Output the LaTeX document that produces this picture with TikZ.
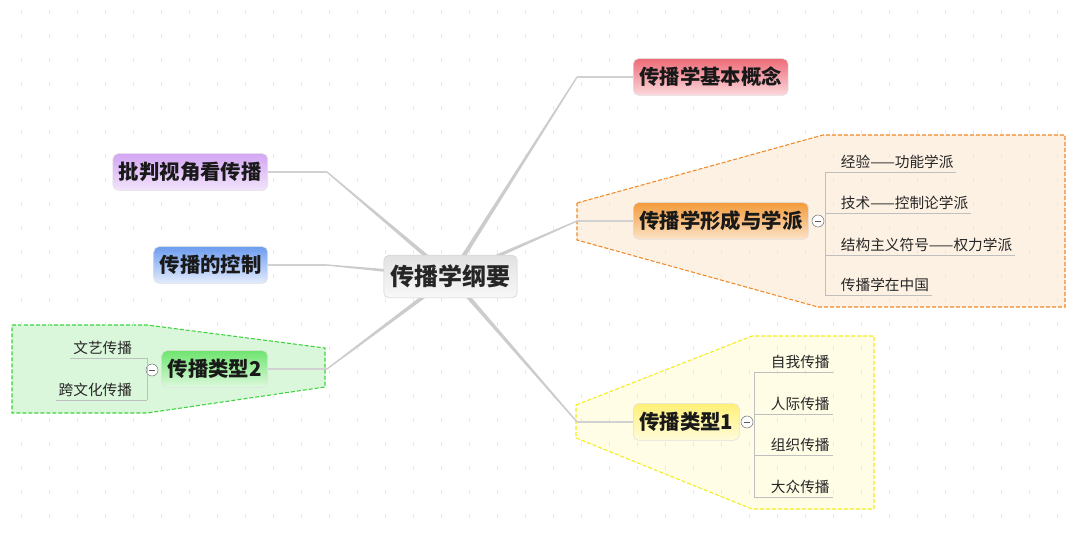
\documentclass[tikz,border=0pt]{standalone}
\usepackage{fontspec}
\newfontfamily\cjk{Noto Sans CJK SC}
\usetikzlibrary{backgrounds,calc,shapes}

\definecolor{rootT}{HTML}{E2E2E2}
\definecolor{rootB}{HTML}{F8F8F8}
\definecolor{redT}{HTML}{EE6B78}
\definecolor{redB}{HTML}{FBD9DD}
\definecolor{purT}{HTML}{D3A6F3}
\definecolor{purB}{HTML}{F2E4FB}
\definecolor{bluT}{HTML}{6E9CF0}
\definecolor{bluB}{HTML}{E4ECFC}
\definecolor{oraT}{HTML}{F39A3A}
\definecolor{oraB}{HTML}{FDE4C8}
\definecolor{yelT}{HTML}{FFF176}
\definecolor{yelB}{HTML}{FFFBDC}
\definecolor{grnT}{HTML}{6EE46E}
\definecolor{grnB}{HTML}{DDF9DD}
\definecolor{oraLine}{HTML}{EF8A26}
\definecolor{oraFill}{HTML}{FDF1E4}
\definecolor{yelLine}{HTML}{F2EE1E}
\definecolor{yelFill}{HTML}{FFFDE6}
\definecolor{grnLine}{HTML}{3CD43C}
\definecolor{grnFill}{HTML}{DBF7DB}

% tapered branch from the root
\newcommand{\branchline}[2]{%
  \fill[branchfill] ($(#1)!1.7pt!90:(#2)$) -- ($(#2)!0.5pt!-90:(#1)$)
    -- ($(#2)!0.5pt!90:(#1)$) -- ($(#1)!1.7pt!-90:(#2)$) -- cycle;}

\begin{document}
\begin{tikzpicture}[x=0.75pt,y=-0.75pt,
    rootbox/.style={rounded corners=4pt, draw=black!18, top color=rootT, bottom color=rootB,
      minimum height=32pt, inner xsep=5pt, text=black!85,
      font=\cjk\bfseries\fontsize{18pt}{18pt}\selectfont},
    topic/.style 2 args={rounded corners=4pt, draw=black!12, top color=#1, bottom color=#2,
      minimum height=27.5pt, inner xsep=4.5pt, text=black!90,
      font=\cjk\bfseries\fontsize{15.3pt}{15.3pt}\selectfont},
    leaf/.style={inner xsep=2pt, inner ysep=0pt, text height=9pt, text depth=3.3pt,
      text=black!85, font=\cjk\fontsize{11pt}{11pt}\selectfont},
    foldmark/.style={circle, draw=black!55, fill=white, minimum size=9pt, inner sep=0pt,
      path picture={\draw[black!65] ([xshift=2pt]path picture bounding box.west)
        -- ([xshift=-2pt]path picture bounding box.east);}},
    zonebox/.style 2 args={draw=#1, fill=#2, line width=0.8pt, dash pattern=on 3pt off 1.5pt},
    branchfill/.style={black!20},
    stemline/.style={black!18, line width=0.8pt},
    subline/.style={black!25, line width=0.7pt},
    gridmark/.style={black!9, line width=0.5pt}]

  \useasboundingbox (0,0) rectangle (1080,533);

  % root and main topics
  \node[rootbox] (root) at (450.5,276.5) {传播学纲要};
  \node[topic={redT}{redB}, anchor=west] (basic) at (633,77) {传播学基本概念};
  \node[topic={purT}{purB}, anchor=east] (critic) at (268,172) {批判视角看传播};
  \node[topic={bluT}{bluB}, anchor=east] (control) at (268,265) {传播的控制};
  \node[topic={oraT}{oraB}, anchor=west] (school) at (633,221) {传播学形成与学派};
  \node[topic={yelT}{yelB}, anchor=west] (type1) at (633,422) {传播类型1};
  \node[topic={grnT}{grnB}, anchor=east] (type2) at (268,369) {传播类型2};

  \node[foldmark] (f-school) at (818,221) {};
  \node[foldmark] (f-type1) at (747,422) {};
  \node[foldmark] (f-type2) at (152,370) {};

  \coordinate (bk-school) at (825,221);
  \coordinate (bk-type1) at (754,422);
  \coordinate (bk-type2) at (147,370);

  % elbows
  \coordinate (k-basic) at (577,77);
  \coordinate (k-school) at (577,221);
  \coordinate (k-type1) at (577,422);
  \coordinate (k-critic) at (327,172);
  \coordinate (k-control) at (327,265);
  \coordinate (k-type2) at (327,369);

  % sub topics
  \node[leaf, anchor=south west] (s1) at (838,172) {经验——功能学派};
  \node[leaf, anchor=south west] (s2) at (838,213) {技术——控制论学派};
  \node[leaf, anchor=south west] (s3) at (838,255) {结构主义符号——权力学派};
  \node[leaf, anchor=south west] (s4) at (838,295) {传播学在中国};

  \node[leaf, anchor=south west] (t1) at (768,372) {自我传播};
  \node[leaf, anchor=south west] (t2) at (768,414) {人际传播};
  \node[leaf, anchor=south west] (t3) at (768,455) {组织传播};
  \node[leaf, anchor=south west] (t4) at (768,497) {大众传播};

  \node[leaf, anchor=south east] (u1) at (135,358) {文艺传播};
  \node[leaf, anchor=south east] (u2) at (135,400) {跨文化传播};

  % underlines and brackets
  \draw[subline] (s1.south east) -- (s1.south east -| bk-school);
  \draw[subline] (s2.south east) -- (s2.south east -| bk-school);
  \draw[subline] (s3.south east) -- (s3.south east -| bk-school);
  \draw[subline] (s4.south east) -- (s4.south east -| bk-school);
  \draw[subline] (s1.south east -| bk-school) -- (s4.south east -| bk-school);

  \draw[subline] (t1.south east) -- (t1.south east -| bk-type1);
  \draw[subline] (t2.south east) -- (t2.south east -| bk-type1);
  \draw[subline] (t3.south east) -- (t3.south east -| bk-type1);
  \draw[subline] (t4.south east) -- (t4.south east -| bk-type1);
  \draw[subline] (t1.south east -| bk-type1) -- (t4.south east -| bk-type1);

  \draw[subline] (u1.south west) -- (u1.south west -| bk-type2);
  \draw[subline] (u2.south west) -- (u2.south west -| bk-type2);
  \draw[subline] (u1.south west -| bk-type2) -- (u2.south west -| bk-type2);

  \begin{scope}[on background layer]
    \fill[white] (0,0) rectangle (1080,533);
    % dashed groups
    \draw[zonebox={oraLine}{oraFill}] (577,203) -- (823,135) -- (1065,135) -- (1065,307)
      -- (818,307) -- (577,240) -- cycle;
    \draw[zonebox={yelLine}{yelFill}] (576,405) -- (752,336) -- (874,336) -- (874,509)
      -- (752,509) -- (576,438) -- cycle;
    \draw[zonebox={grnLine}{grnFill}] (12,325) -- (147,325) -- (325,348) -- (325,387)
      -- (147,413) -- (12,413) -- cycle;
    % dot grid
    \foreach \gx in {21,49,...,1077}
      \foreach \gy in {12,36,...,528}
        \draw[gridmark] (\gx,\gy-2) -- (\gx,\gy+2);
    % branches
    \branchline{root}{k-basic}
    \branchline{root}{k-school}
    \branchline{root}{k-type1}
    \branchline{root}{k-critic}
    \branchline{root}{k-control}
    \branchline{root}{k-type2}
    \draw[stemline] (k-basic) -- (basic.west);
    \draw[stemline] (k-school) -- (school.west);
    \draw[stemline] (k-type1) -- (type1.west);
    \draw[stemline] (k-critic) -- (critic.east);
    \draw[stemline] (k-control) -- (control.east);
    \draw[stemline] (k-type2) -- (type2.east);
  \end{scope}
\end{tikzpicture}
\end{document}
